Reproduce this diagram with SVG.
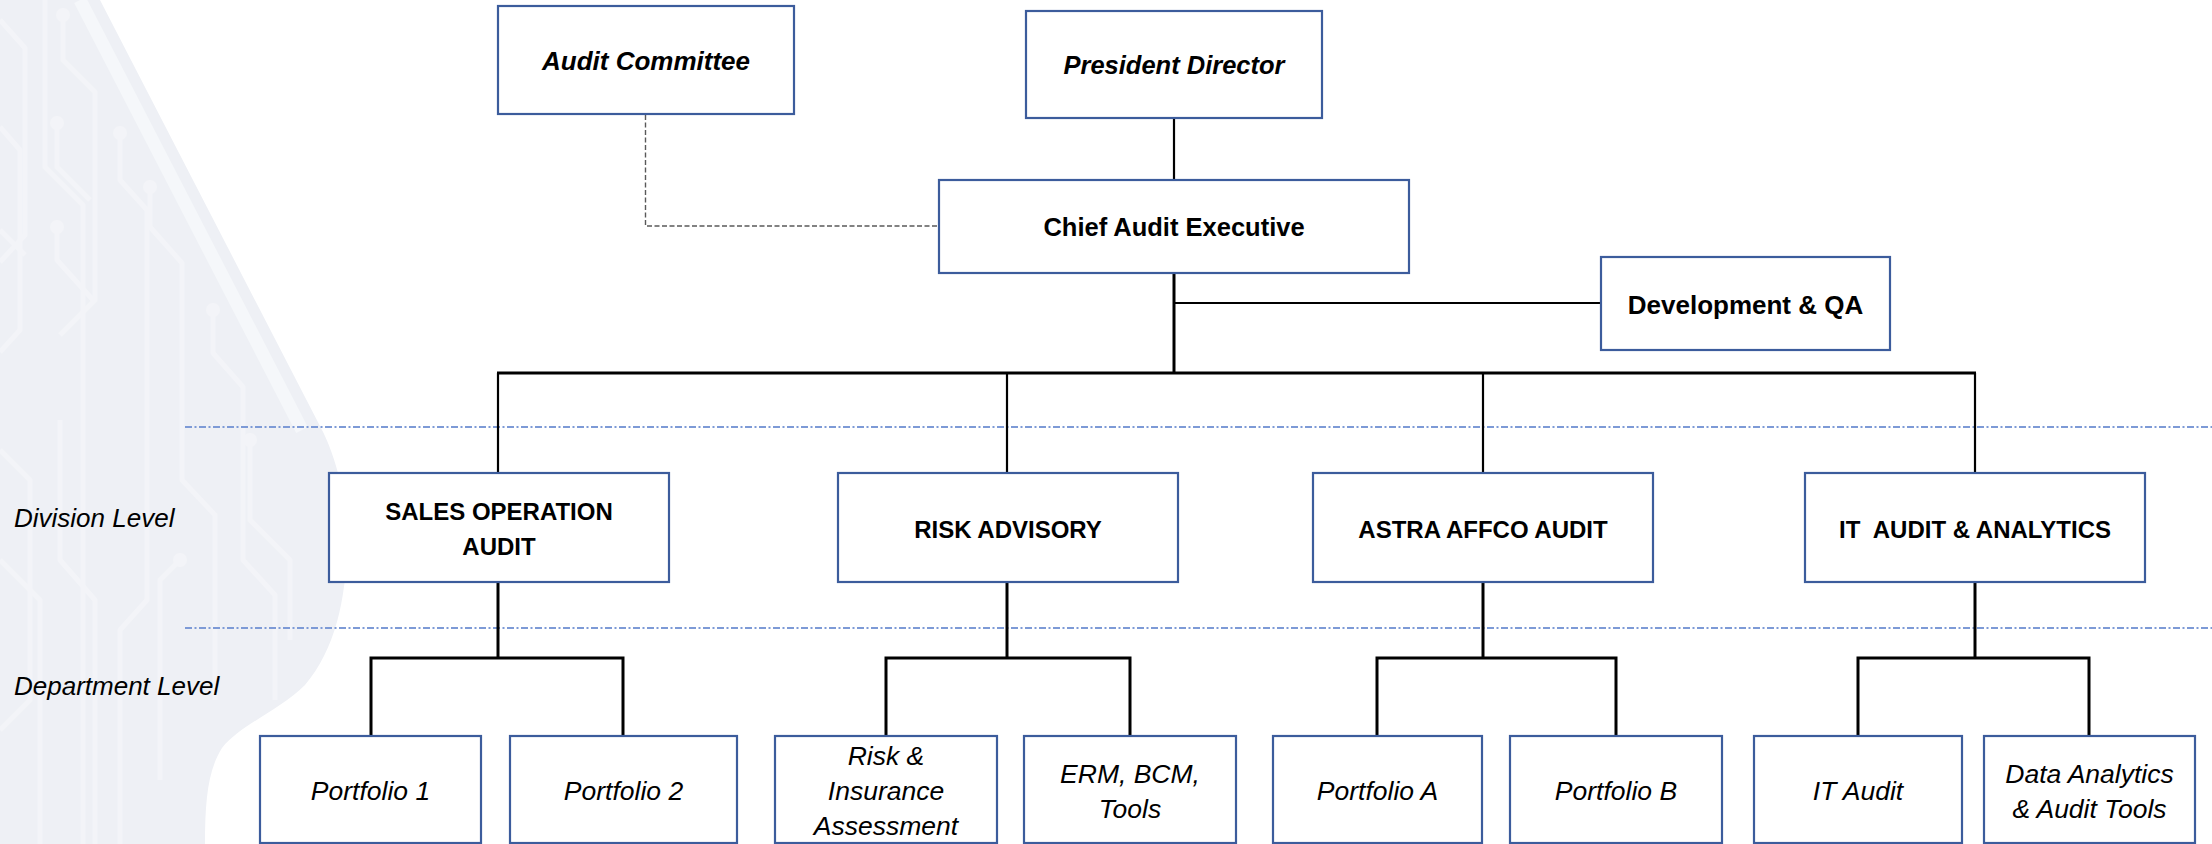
<svg xmlns="http://www.w3.org/2000/svg" width="2212" height="844" viewBox="0 0 2212 844">
<style>
.box{fill:#ffffff;stroke:#3c5c9c;stroke-width:2.2}
.t{font-family:"Liberation Sans",Arial,sans-serif;fill:#000;text-anchor:middle}
.b{font-weight:bold}
.i{font-style:italic}
.caps{font-size:24px}
.mix{font-size:25.5px}
.it{font-size:26.5px}
.lvl{font-family:"Liberation Sans",Arial,sans-serif;font-style:italic;font-size:26px;fill:#000}
.conn{stroke:#000;fill:none;stroke-width:2.2}
.thick{stroke-width:3}
.dash{stroke:#595959;fill:none;stroke-width:1.4;stroke-dasharray:5 2.5}
.lv{stroke:#7d9ad6;stroke-width:1.8;fill:none;stroke-dasharray:7 2.5 2 2.5}
.trace{stroke:#f3f4f8;stroke-width:5;fill:none;stroke-linejoin:round}
.node{fill:#f3f4f8}
</style>
<defs>
<clipPath id="bgclip">
<path d="M0,0 L100,0 L322,430 C335,455 348,500 347,545 C346,600 335,650 305,685 C280,710 240,725 222,748 C208,770 205,800 205,844 L0,844 Z"/>
</clipPath>
</defs>
<rect x="0" y="0" width="2212" height="844" fill="#ffffff"/>
<g id="background">
<path d="M0,0 L100,0 L322,430 C335,455 348,500 347,545 C346,600 335,650 305,685 C280,710 240,725 222,748 C208,770 205,800 205,844 L0,844 Z" fill="#eef0f5"/>
<g clip-path="url(#bgclip)">
<path class="trace" d="M0,20 L25,48 L25,235 L0,262"/>
<path class="trace" d="M45,0 L45,167 L83,205 L83,844"/>
<path class="trace" d="M63,15 L63,60 L95,92 L95,300 L60,335"/>
<path class="trace" d="M57,123 L57,167 L90,200"/>
<path class="trace" d="M120,133 L120,180 L147,210 L147,600 L120,630 L120,844"/>
<path class="trace" d="M150,187 L150,227 L182,263 L182,480 L215,515 L215,700"/>
<path class="trace" d="M57,227 L57,260 L93,300"/>
<path class="trace" d="M213,310 L213,353 L243,387 L243,560 L275,595 L275,700"/>
<path class="trace" d="M0,127 L20,150 L20,330 L0,352"/>
<path class="trace" d="M0,230 L25,255"/>
<path class="trace" d="M0,450 L30,480 L30,700 L0,730"/>
<path class="trace" d="M60,420 L60,560 L95,600 L95,844"/>
<path class="trace" d="M180,560 L160,580 L160,780"/>
<path class="trace" d="M250,440 L250,520 L290,560 L290,640"/>
<path class="trace" d="M0,560 L40,600 L40,844"/>
<circle class="node" cx="63" cy="15" r="7"/>
<circle class="node" cx="57" cy="123" r="7"/>
<circle class="node" cx="120" cy="133" r="7"/>
<circle class="node" cx="150" cy="187" r="7"/>
<circle class="node" cx="57" cy="227" r="7"/>
<circle class="node" cx="213" cy="310" r="7"/>
<circle class="node" cx="250" cy="440" r="7"/>
<circle class="node" cx="180" cy="560" r="7"/>
<path d="M80,0 L302,430" stroke="#f5f7fa" stroke-width="13" fill="none"/>
</g>
</g>
<g id="level-lines">
<line class="lv" x1="185" y1="427" x2="2212" y2="427"/>
<line class="lv" x1="185" y1="628" x2="2212" y2="628"/>
</g>
<g id="level-labels">
<text class="lvl" x="14" y="527">Division Level</text>
<text class="lvl" x="14" y="695">Department Level</text>
</g>
<g id="connectors">
<polyline class="dash" points="645.5,115 645.5,226 939,226"/>
<line class="conn" x1="1174" y1="118" x2="1174" y2="180"/>
<line class="conn thick" x1="1174" y1="273" x2="1174" y2="373"/>
<line class="conn" x1="1174" y1="303" x2="1601" y2="303" stroke-width="2.6"/>
<line class="conn thick" x1="497" y1="373" x2="1976" y2="373"/>
<line class="conn" x1="498" y1="373" x2="498" y2="473"/>
<line class="conn" x1="1007" y1="373" x2="1007" y2="473"/>
<line class="conn" x1="1483" y1="373" x2="1483" y2="473"/>
<line class="conn" x1="1975" y1="373" x2="1975" y2="473"/>
<line class="conn thick" x1="498" y1="582" x2="498" y2="658"/>
<polyline class="conn thick" points="371,736 371,658 623,658 623,736"/>
<line class="conn thick" x1="1007" y1="582" x2="1007" y2="658"/>
<polyline class="conn thick" points="886,736 886,658 1130,658 1130,736"/>
<line class="conn thick" x1="1483" y1="582" x2="1483" y2="658"/>
<polyline class="conn thick" points="1377,736 1377,658 1616,658 1616,736"/>
<line class="conn thick" x1="1975" y1="582" x2="1975" y2="658"/>
<polyline class="conn thick" points="1858,736 1858,658 2089,658 2089,736"/>
</g>
<g id="audit-committee">
<rect class="box" x="498" y="6" width="296" height="108"/>
<text class="t b i" x="646" y="70" font-size="26">Audit Committee</text>
</g>
<g id="president-director">
<rect class="box" x="1026" y="11" width="296" height="107"/>
<text class="t b i" x="1174" y="74" font-size="25.5">President Director</text>
</g>
<g id="chief-audit-executive">
<rect class="box" x="939" y="180" width="470" height="93"/>
<text class="t b mix" x="1174" y="236">Chief Audit Executive</text>
</g>
<g id="development-qa">
<rect class="box" x="1601" y="257" width="289" height="93"/>
<text class="t b" x="1745.5" y="314" font-size="26">Development &amp; QA</text>
</g>
<g id="sales-operation-audit">
<rect class="box" x="329" y="473" width="340" height="109"/>
<text class="t b caps" x="499" y="520">SALES OPERATION</text>
<text class="t b caps" x="499" y="555">AUDIT</text>
</g>
<g id="risk-advisory">
<rect class="box" x="838" y="473" width="340" height="109"/>
<text class="t b caps" x="1008" y="538">RISK ADVISORY</text>
</g>
<g id="astra-affco-audit">
<rect class="box" x="1313" y="473" width="340" height="109"/>
<text class="t b caps" x="1483" y="538">ASTRA AFFCO AUDIT</text>
</g>
<g id="it-audit-analytics">
<rect class="box" x="1805" y="473" width="340" height="109"/>
<text class="t b caps" x="1975" y="538" xml:space="preserve" style="white-space:pre">IT  AUDIT &amp; ANALYTICS</text>
</g>
<g id="portfolio-1">
<rect class="box" x="260" y="736" width="221" height="107"/>
<text class="t i it" x="370.5" y="800">Portfolio 1</text>
</g>
<g id="portfolio-2">
<rect class="box" x="510" y="736" width="227" height="107"/>
<text class="t i it" x="623.5" y="800">Portfolio 2</text>
</g>
<g id="risk-insurance-assessment">
<rect class="box" x="775" y="736" width="222" height="107"/>
<text class="t i it" x="886" y="765">Risk &amp;</text>
<text class="t i it" x="886" y="800">Insurance</text>
<text class="t i it" x="886" y="835">Assessment</text>
</g>
<g id="erm-bcm-tools">
<rect class="box" x="1024" y="736" width="212" height="107"/>
<text class="t i it" x="1130" y="782.5">ERM, BCM,</text>
<text class="t i it" x="1130" y="817.5">Tools</text>
</g>
<g id="portfolio-a">
<rect class="box" x="1273" y="736" width="209" height="107"/>
<text class="t i it" x="1377.5" y="800">Portfolio A</text>
</g>
<g id="portfolio-b">
<rect class="box" x="1510" y="736" width="212" height="107"/>
<text class="t i it" x="1616" y="800">Portfolio B</text>
</g>
<g id="it-audit">
<rect class="box" x="1754" y="736" width="208" height="107"/>
<text class="t i it" x="1858" y="800">IT Audit</text>
</g>
<g id="data-analytics-audit-tools">
<rect class="box" x="1984" y="736" width="211" height="107"/>
<text class="t i it" x="2089.5" y="783">Data Analytics</text>
<text class="t i it" x="2089.5" y="818">&amp; Audit Tools</text>
</g>
</svg>
